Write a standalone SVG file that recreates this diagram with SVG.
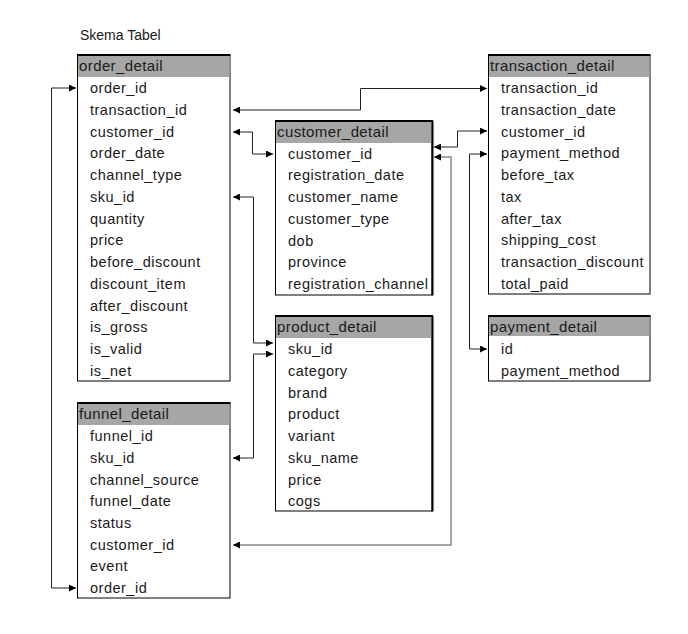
<svg xmlns="http://www.w3.org/2000/svg" width="688" height="634" viewBox="0 0 688 634">
<style>
text{font-family:"Liberation Sans",Arial,sans-serif;fill:#1a1a1a}
.h{font-size:15px;letter-spacing:0.4px}
.r{font-size:14.5px;letter-spacing:0.5px}
.t{font-size:14px}
.box{fill:#fff;stroke:#000;stroke-width:1}
.hd{fill:#a6a6a6}
.thick{stroke:#000;stroke-width:2;fill:none}
.c{fill:none;stroke:#222;stroke-width:1}
.cg{fill:none;stroke:#888;stroke-width:1.5}
</style>
<defs>
<marker id="a" viewBox="0 0 10 10" refX="10" refY="5" markerWidth="9" markerHeight="7" markerUnits="userSpaceOnUse" orient="auto-start-reverse">
<path d="M0,0 L10,5 L0,10 z" fill="#000"/>
</marker>
</defs>
<rect width="688" height="634" fill="#fff"/>
<text class="t" x="80" y="40">Skema Tabel</text>

<g id="order_detail">
<rect class="box" x="77.5" y="55.5" width="152.5" height="325.5"/>
<rect class="hd" x="78" y="56" width="151.5" height="21"/>
<line class="thick" x1="77" y1="55" x2="230.5" y2="55"/>
<text class="h" x="79" y="71">order_detail</text>
<text class="r" x="90" y="93">order_id</text>
<text class="r" x="90" y="115">transaction_id</text>
<text class="r" x="90" y="137">customer_id</text>
<text class="r" x="90" y="158">order_date</text>
<text class="r" x="90" y="180">channel_type</text>
<text class="r" x="90" y="202">sku_id</text>
<text class="r" x="90" y="224">quantity</text>
<text class="r" x="90" y="245">price</text>
<text class="r" x="90" y="267">before_discount</text>
<text class="r" x="90" y="289">discount_item</text>
<text class="r" x="90" y="311">after_discount</text>
<text class="r" x="90" y="332">is_gross</text>
<text class="r" x="90" y="354">is_valid</text>
<text class="r" x="90" y="376">is_net</text>
</g>

<g id="funnel_detail">
<rect class="box" x="77.5" y="403.5" width="152.5" height="194.5"/>
<rect class="hd" x="78" y="404" width="151.5" height="21"/>
<line class="thick" x1="77" y1="403" x2="230.5" y2="403"/>
<text class="h" x="79" y="419">funnel_detail</text>
<text class="r" x="90" y="441">funnel_id</text>
<text class="r" x="90" y="463">sku_id</text>
<text class="r" x="90" y="485">channel_source</text>
<text class="r" x="90" y="506">funnel_date</text>
<text class="r" x="90" y="528">status</text>
<text class="r" x="90" y="550">customer_id</text>
<text class="r" x="90" y="571">event</text>
<text class="r" x="90" y="593">order_id</text>
</g>

<g id="customer_detail">
<rect class="box" x="275.5" y="121.5" width="156.5" height="173.5"/>
<rect class="hd" x="276" y="122" width="155.5" height="21"/>
<line class="thick" x1="275" y1="121" x2="433" y2="121"/>
<line class="thick" x1="432.5" y1="121" x2="432.5" y2="295.5"/>
<text class="h" x="277" y="137">customer_detail</text>
<text class="r" x="288" y="159">customer_id</text>
<text class="r" x="288" y="180">registration_date</text>
<text class="r" x="288" y="202">customer_name</text>
<text class="r" x="288" y="224">customer_type</text>
<text class="r" x="288" y="246">dob</text>
<text class="r" x="288" y="267">province</text>
<text class="r" x="288" y="289">registration_channel</text>
</g>

<g id="product_detail">
<rect class="box" x="275.5" y="316.5" width="156.5" height="194.5"/>
<rect class="hd" x="276" y="317" width="155.5" height="21"/>
<line class="thick" x1="275" y1="316" x2="433" y2="316"/>
<line class="thick" x1="432.5" y1="316" x2="432.5" y2="511.5"/>
<text class="h" x="277" y="332">product_detail</text>
<text class="r" x="288" y="354">sku_id</text>
<text class="r" x="288" y="376">category</text>
<text class="r" x="288" y="398">brand</text>
<text class="r" x="288" y="419">product</text>
<text class="r" x="288" y="441">variant</text>
<text class="r" x="288" y="463">sku_name</text>
<text class="r" x="288" y="485">price</text>
<text class="r" x="288" y="506">cogs</text>
</g>

<g id="transaction_detail">
<rect class="box" x="488.5" y="55.5" width="161.5" height="238.5"/>
<rect class="hd" x="489" y="56" width="160.5" height="21"/>
<line class="thick" x1="488" y1="55" x2="650.5" y2="55"/>
<text class="h" x="490" y="71">transaction_detail</text>
<text class="r" x="501" y="93">transaction_id</text>
<text class="r" x="501" y="115">transaction_date</text>
<text class="r" x="501" y="137">customer_id</text>
<text class="r" x="501" y="158">payment_method</text>
<text class="r" x="501" y="180">before_tax</text>
<text class="r" x="501" y="202">tax</text>
<text class="r" x="501" y="224">after_tax</text>
<text class="r" x="501" y="245">shipping_cost</text>
<text class="r" x="501" y="267">transaction_discount</text>
<text class="r" x="501" y="289">total_paid</text>
</g>

<g id="payment_detail">
<rect class="box" x="488.5" y="316.5" width="161.5" height="64.5"/>
<rect class="hd" x="489" y="317" width="160.5" height="19"/>
<line class="thick" x1="488" y1="316" x2="650.5" y2="316"/>
<text class="h" x="490" y="332">payment_detail</text>
<text class="r" x="501" y="354">id</text>
<text class="r" x="501" y="376">payment_method</text>
</g>

<g id="connectors">
<path class="c" d="M233,110 H360.5 V88.5 H487" marker-start="url(#a)" marker-end="url(#a)"/>
<path class="c" d="M233,132 H252.5 V154 H273" marker-start="url(#a)" marker-end="url(#a)"/>
<path class="c" d="M434,147 H457.5 V131 H487" marker-start="url(#a)" marker-end="url(#a)"/>
<path class="cg" d="M434,157 H451 V545 H233" marker-start="url(#a)" marker-end="url(#a)"/>
<path class="c" d="M487,154 H469.5 V349 H487" marker-start="url(#a)" marker-end="url(#a)"/>
<path class="c" d="M233,197 H253.5 V343 H273" marker-start="url(#a)" marker-end="url(#a)"/>
<path class="c" d="M233,458 H253.5 V354 H273" marker-start="url(#a)" marker-end="url(#a)"/>
<path class="c" d="M76,88 H51.5 V588 H76" marker-start="url(#a)" marker-end="url(#a)"/>
</g>
</svg>
